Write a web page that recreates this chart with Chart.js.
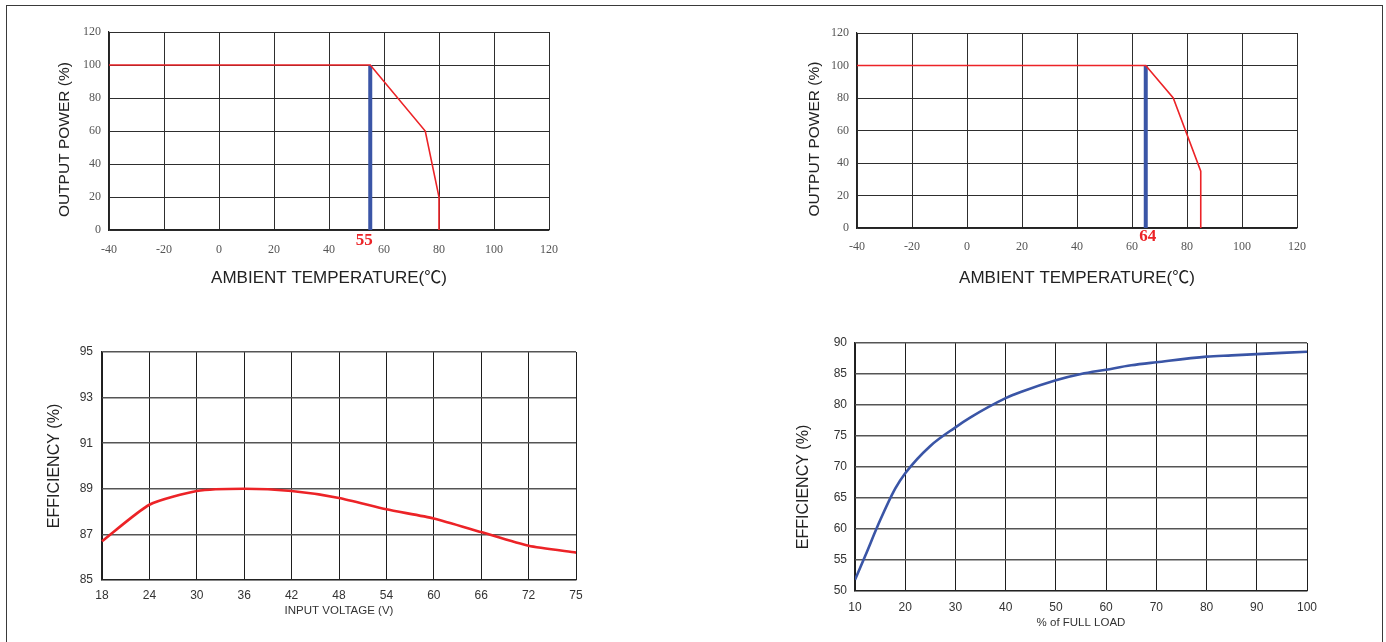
<!DOCTYPE html>
<html>
<head>
<meta charset="utf-8">
<script src="https://cdn.jsdelivr.net/npm/chart.js@4.4.0/dist/chart.umd.min.js"></script>
<style>
  html, body { margin:0; padding:0; background:#fff; width:1386px; height:642px; overflow:hidden; }
  #frame { position:absolute; left:6px; top:5px; width:1377px; height:700px; border:1px solid #3a3a3a; box-sizing:border-box; }
  canvas { position:absolute; }
</style>
</head>
<body>
<div id="frame"></div>
<canvas id="c1" width="693" height="320" style="left:0;top:0"></canvas>
<canvas id="c2" width="693" height="320" style="left:693px;top:0"></canvas>
<canvas id="c3" width="693" height="321" style="left:0;top:321px"></canvas>
<canvas id="c4" width="693" height="321" style="left:693px;top:321px"></canvas>
<script>
// ---------- DATA ----------
// Derating curve 1
const derateTemp1  = [-40, 55, 75, 80, 80];
const deratePower1 = [100, 100, 60, 20, 0];
const markerTemp1  = 55;
const markerLabel1 = "55";
// Derating curve 2
const derateTemp2  = [-40, 65, 75, 85, 85];
const deratePower2 = [100, 100, 80, 35, 0];
const markerTemp2  = 65;
const markerLabel2 = "64";
// Efficiency vs input voltage
const inputVoltage = ["18","24","30","36","42","48","54","60","66","72","75"];
const effVsVoltage = [86.7, 88.3, 88.9, 89.0, 88.9, 88.6, 88.1, 87.7, 87.1, 86.5, 86.2];
// Efficiency vs load
const loadPct   = [10, 12, 15, 18, 20, 25, 30, 33, 40, 43, 50, 55, 60, 65, 70, 80, 85, 90, 100];
const effVsLoad = [51.8, 55.6, 61.4, 66.5, 69.0, 73.4, 76.4, 78.0, 81.1, 82.1, 84.0, 85.0, 85.7, 86.4, 86.9, 87.8, 88.0, 88.2, 88.6];

// ---------- STYLE ----------
const RED = '#ec2327';
const BLUE = '#3a55a6';
const SANS = "'Liberation Sans', Arial, sans-serif";
const SANS_CJK = "'Liberation Sans', 'Noto Sans CJK JP', Arial, sans-serif";
const SERIF = "'Liberation Serif', 'Times New Roman', serif";

Chart.defaults.animation = false;
Chart.defaults.responsive = false;
Chart.defaults.devicePixelRatio = 1;
Chart.defaults.plugins.legend.display = false;
Chart.defaults.plugins.tooltip.enabled = false;

const markerLabelPlugin = {
  id: 'markerLabel',
  afterDatasetsDraw(chart, args, opts) {
    if (!opts || opts.text === undefined) return;
    const {ctx, scales} = chart;
    const x = scales.x.getPixelForValue(opts.value) + opts.dx;
    const y = scales.y.getPixelForValue(0) + opts.dy;
    ctx.save();
    ctx.font = "bold 17px " + SERIF;
    ctx.fillStyle = RED;
    ctx.textAlign = 'center';
    ctx.textBaseline = 'middle';
    ctx.fillText(opts.text, x, y);
    ctx.restore();
  }
};

function derateChart(id, temps, power, marker, label, L) {
  const pts = temps.map((t, i) => ({x: t, y: power[i]}));
  return new Chart(document.getElementById(id), {
    type: 'scatter',
    data: { datasets: [
      { data: [{x: marker, y: 0}, {x: marker, y: 100}], showLine: true, borderColor: BLUE, borderWidth: 4, pointRadius: 0, order: 2 },
      { data: pts, showLine: true, borderColor: RED, borderWidth: 1.6, pointRadius: 0, tension: 0, order: 1 }
    ]},
    plugins: [markerLabelPlugin],
    options: {
      layout: { padding: { left: 0, top: L.top, right: L.right, bottom: 0 } },
      plugins: { markerLabel: { value: marker, text: label, dx: L.ldx, dy: L.ldy } },
      scales: {
        x: {
          type: 'linear', min: -40, max: 120,
          ticks: { stepSize: 20, color: '#555', font: { family: SERIF, size: 12 }, padding: L.xpad, maxRotation: 0 },
          grid: { color: '#2e2e2e', lineWidth: 1, drawTicks: false },
          border: { color: '#222', width: 1.2 },
          title: { display: true, text: 'AMBIENT TEMPERATURE(℃)', color: '#222', font: { family: SANS_CJK, size: 17 }, padding: { top: 0, bottom: L.xtb } },
          afterFit: s => { s.height = L.xh; }
        },
        y: {
          min: 0, max: 120,
          ticks: { stepSize: 20, color: '#555', font: { family: SERIF, size: 12 }, padding: 8 },
          grid: { color: '#2e2e2e', lineWidth: 1, drawTicks: false },
          border: { color: '#222', width: 1.2 },
          title: { display: true, text: 'OUTPUT POWER (%)    ', color: '#222', font: { family: SANS, size: 15.5 }, padding: { top: L.ytp, bottom: 0 } },
          afterFit: s => { s.width = L.yw; }
        }
      }
    }
  });
}

derateChart('c1', derateTemp1, deratePower1, markerTemp1, markerLabel1,
  { top: 32, right: 144, xh: 90, yw: 109, xpad: 13, xtb: 31, ytp: 55.5, ldx: -6, ldy: 11 });
derateChart('c2', derateTemp2, deratePower2, markerTemp2, markerLabel2,
  { top: 33, right: 89, xh: 92, yw: 164, xpad: 12, xtb: 31, ytp: 112.5, ldx: 2, ldy: 8.5 });

// Efficiency vs input voltage
new Chart(document.getElementById('c3'), {
  type: 'line',
  data: { labels: inputVoltage, datasets: [
    { data: effVsVoltage, borderColor: RED, borderWidth: 2.6, pointRadius: 0, tension: 0.2 }
  ]},
  options: {
    layout: { padding: { left: 0, top: 31, right: 117, bottom: 0 } },
    scales: {
      x: {
        type: 'category', offset: false,
        ticks: { color: '#333', font: { family: SANS, size: 12 }, padding: 8, maxRotation: 0, autoSkip: false },
        grid: { color: '#1e1e1e', lineWidth: 1, drawTicks: false, offset: false },
        border: { color: '#222', width: 1.2 },
        title: { display: true, text: 'INPUT VOLTAGE (V)', color: '#333', font: { family: SANS, size: 11.5 }, padding: { top: 0, bottom: 24 } },
        afterFit: s => { s.height = 62; }
      },
      y: {
        min: 85, max: 95,
        ticks: { stepSize: 2, color: '#333', font: { family: SANS, size: 12 }, padding: 9 },
        grid: { color: '#555', lineWidth: 1.5, drawTicks: false },
        border: { color: '#222', width: 1.2 },
        title: { display: true, text: 'EFFICIENCY (%)', color: '#222', font: { family: SANS, size: 16 }, padding: { top: 44.5, bottom: 0 } },
        afterFit: s => { s.width = 102; }
      }
    }
  }
});

// Efficiency vs load
new Chart(document.getElementById('c4'), {
  type: 'scatter',
  data: { datasets: [
    { data: loadPct.map((l, i) => ({x: l, y: effVsLoad[i]})), showLine: true, borderColor: BLUE, borderWidth: 2.6, pointRadius: 0, cubicInterpolationMode: 'monotone' }
  ]},
  options: {
    layout: { padding: { left: 0, top: 22, right: 79, bottom: 0 } },
    scales: {
      x: {
        type: 'linear', min: 10, max: 100,
        ticks: { stepSize: 10, color: '#333', font: { family: SANS, size: 12 }, padding: 9, maxRotation: 0 },
        grid: { color: '#1e1e1e', lineWidth: 1, drawTicks: false },
        border: { color: '#222', width: 1.2 },
        title: { display: true, text: '% of FULL LOAD', color: '#333', font: { family: SANS, size: 11.5 }, padding: { top: 0, bottom: 12 } },
        afterFit: s => { s.height = 51; }
      },
      y: {
        min: 50, max: 90,
        ticks: { stepSize: 5, color: '#333', font: { family: SANS, size: 12 }, padding: 8 },
        grid: { color: '#555', lineWidth: 1.5, drawTicks: false },
        border: { color: '#222', width: 1.2 },
        title: { display: true, text: 'EFFICIENCY (%)         ', color: '#222', font: { family: SANS, size: 16 }, padding: { top: 100.5, bottom: 0 } },
        afterFit: s => { s.width = 162; }
      }
    }
  }
});
</script>
</body>
</html>
